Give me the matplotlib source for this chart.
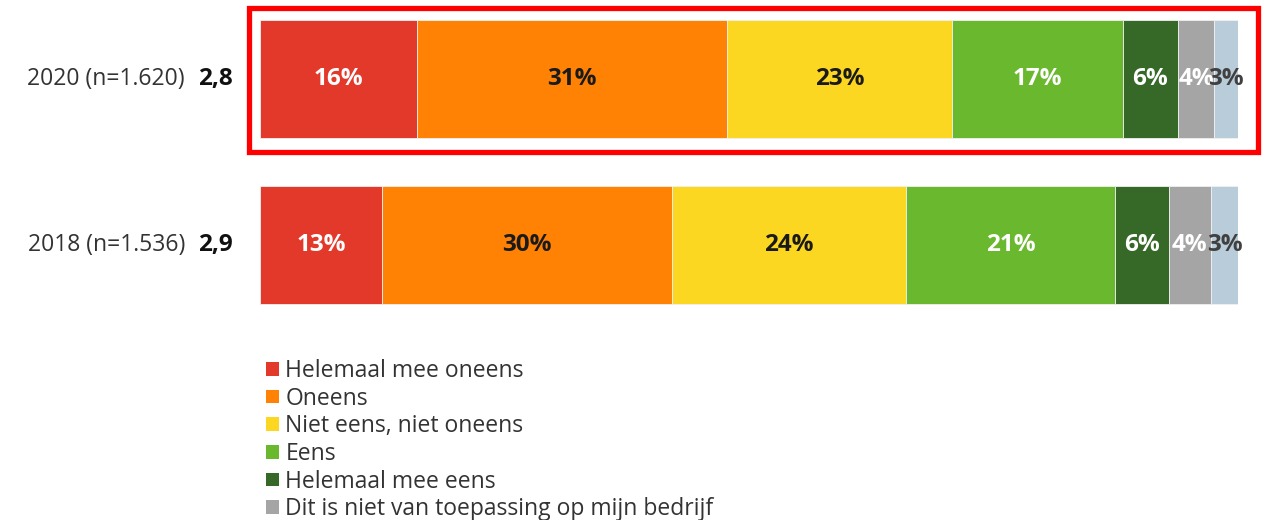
import matplotlib
matplotlib.use("Agg")
import matplotlib.pyplot as plt
from matplotlib.patches import Rectangle, Patch

plt.rcParams['font.family'] = ['Open Sans', 'DejaVu Sans']

years = ["2020 (n=1.620)", "2018 (n=1.536)"]
means = ["2,8", "2,9"]
categories = ["Helemaal mee oneens", "Oneens", "Niet eens, niet oneens", "Eens",
              "Helemaal mee eens", "Dit is niet van toepassing op mijn bedrijf",
              "Weet niet"]
values_2020 = [16.1, 31.6, 23.1, 17.4, 5.7, 3.6, 2.6]
values_2018 = [12.5, 29.6, 24.0, 21.3, 5.5, 4.3, 2.9]
labels_2020 = ["16%", "31%", "23%", "17%", "6%", "4%", "3%"]
labels_2018 = ["13%", "30%", "24%", "21%", "6%", "4%", "3%"]

colors = ["#E3392A", "#FF8205", "#FCD721", "#69B82E", "#366827", "#A5A5A5", "#B9CCDA"]
text_colors = ["white", "#1a1a1a", "#1a1a1a", "white", "white", "white", "#404040"]

W, H = 1266, 520
fig = plt.figure(figsize=(W / 100, H / 100), dpi=100)
ax = fig.add_axes([260 / W, 0, (1238 - 260) / W, 1])
ax.set_xlim(0, 100)
spacing = 166.0
ax.set_ylim((H - 79) / spacing, -79 / spacing)
ax.axis("off")

bar_h = 118 / spacing
rows = [(values_2020, labels_2020), (values_2018, labels_2018)]
for i, (vals, labs) in enumerate(rows):
    left = 0
    for v, lab, c, tc in zip(vals, labs, colors, text_colors):
        ax.barh(i, v, left=left, height=bar_h, color=c, edgecolor="#f0f0f0", linewidth=0.6)
        ax.text(left + v / 2, i, lab, ha="center", va="center", color=tc,
                fontsize=17.5, fontweight="bold")
        left += v
    # row labels
    ax.annotate(years[i], xy=(0, i), xycoords="data", xytext=(-75, 0),
                textcoords="offset pixels", ha="right", va="center",
                fontsize=16.5, color="#333333")
    ax.annotate(means[i], xy=(0, i), xycoords="data", xytext=(-27, 0),
                textcoords="offset pixels", ha="right", va="center",
                fontsize=17.5, fontweight="bold", color="#111111")

# highlight frame around 2020 row
fig.patches.append(Rectangle((249 / W, 1 - 152 / H), (1258 - 249) / W, (152 - 8) / H,
                             transform=fig.transFigure, fill=False,
                             edgecolor="#FF0000", linewidth=3.8))

handles = [Patch(facecolor=c, edgecolor="none") for c in colors[:6]]
fig.legend(handles, categories[:6], loc="upper left",
           bbox_to_anchor=(266 / W, 1 - 359 / H), frameon=False,
           fontsize=16.5, handlelength=0.55, handleheight=0.55, handletextpad=0.3,
           labelspacing=0.16, borderaxespad=0, borderpad=0,
           labelcolor="#333333")

fig.savefig("out.png", dpi=100)
